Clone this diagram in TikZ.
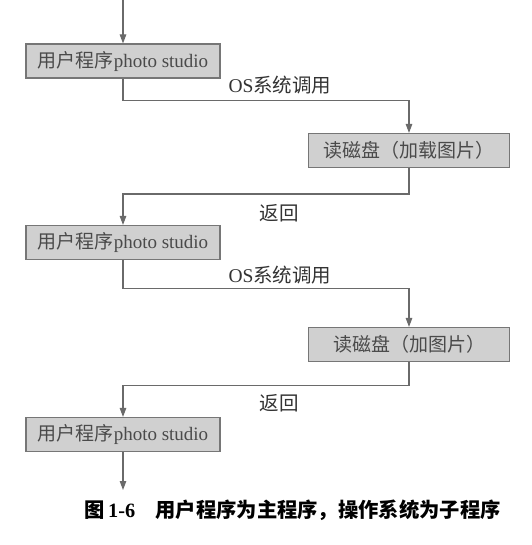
\documentclass[tikz,border=0pt]{standalone}
\usepackage{fontspec}
\setmainfont{Liberation Serif}
\newfontfamily\cjk{Noto Sans CJK SC}
\usetikzlibrary{arrows.meta}
\definecolor{boxfill}{HTML}{D0D0D0}
\definecolor{boxline}{HTML}{767676}
\definecolor{flowline}{HTML}{6A6A6A}
\definecolor{inktext}{HTML}{4A4A4A}
\begin{document}
\begin{tikzpicture}[x=1pt,y=-1pt,
  prog/.style={draw=boxline, fill=boxfill, line width=1.1pt, inner sep=0pt,
    text=inktext, font=\fontsize{19}{19}\selectfont, minimum height=34pt},
  mainbox/.style={prog, minimum width=194pt},
  subbox/.style={prog, minimum width=201pt},
  flow/.style={draw=flowline, line width=1.1pt, -{Triangle[length=9pt,width=6.5pt]}},
  tag/.style={text=black!80, font=\fontsize{19.5}{19.5}\selectfont}]
  \useasboundingbox (0,0) rectangle (531,545);

  % program boxes
  \node[mainbox] (u1) at (123,61)    {{\cjk 用户程序}photo studio};
  \node[subbox]  (d1) at (409,150.5) {\cjk 读磁盘（加载图片）};
  \node[mainbox] (u2) at (123,242.5) {{\cjk 用户程序}photo studio};
  \node[subbox]  (d2) at (409,344.5) {\cjk 读磁盘（加图片）};
  \node[mainbox] (u3) at (123,434.5) {{\cjk 用户程序}photo studio};

  % entry and exit of the flow
  \coordinate (in)  at (123,0);
  \coordinate (out) at (123,490);
  \draw[flow] (in) -- (u1.north);
  \draw[flow] (u3.south) -- (out);

  % calls into the OS and returns
  \draw[flow] (u1.south) -- ++(0,22) -| (d1.north);
  \draw[flow] (d1.south) -- ++(0,26) -| (u2.north);
  \draw[flow] (u2.south) -- ++(0,28) -| (d2.north);
  \draw[flow] (d2.south) -- ++(0,23) -| (u3.north);

  % connector labels
  \node[tag] (c1) at (280,85)  {OS{\cjk 系统调用}};
  \node[tag] (r1) at (279,213) {\cjk 返回};
  \node[tag] (c2) at (280,275) {OS{\cjk 系统调用}};
  \node[tag] (r2) at (279,403) {\cjk 返回};

  % caption
  \node[anchor=west, font=\fontsize{20.3}{20.3}\selectfont\bfseries] (cap) at (81,510)
    {{\cjk 图}\,1-6\quad{\cjk 用户程序为主程序，操作系统为子程序}};
\end{tikzpicture}
\end{document}
